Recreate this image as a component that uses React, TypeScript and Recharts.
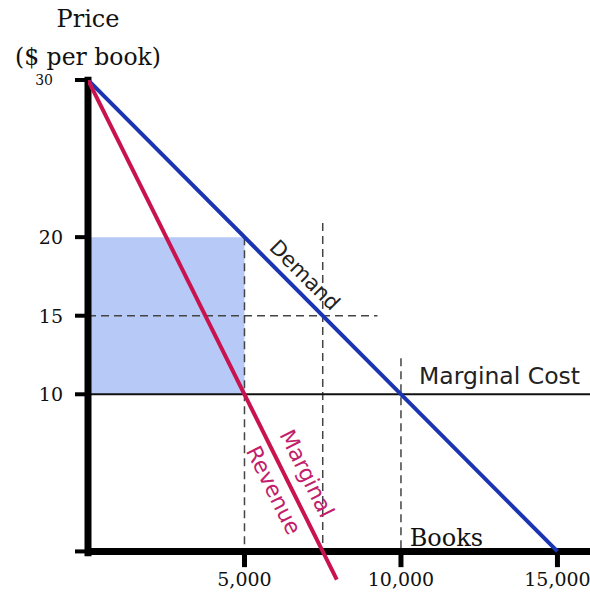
import React from "react";
import {
  ComposedChart,
  Line,
  XAxis,
  YAxis,
  ReferenceLine,
  ReferenceArea,
  ReferenceDot,
} from "recharts";

// quantities in books, prices in $ per book
const demand = [
  { books: 0, price: 30 },
  { books: 15000, price: 0 },
];
const marginalRevenue = [
  { books: 0, price: 30 },
  { books: 7950, price: -1.8 },
];
const marginalCost = 10;
const priceTicks = [0, 10, 15, 20, 30];
const bookTicks = [5000, 10000, 15000];
const bookTickLabels = ["5,000", "10,000", "15,000"];

const serif = "DejaVu Serif";
const sans = "DejaVu Sans";
const blue = "#1b34b2";
const crimson = "#c9134f";

const PriceTick = ({ x, y, payload }: any) => {
  const top = payload.value === 30;
  return (
    <text
      x={x}
      y={y}
      dx={top ? -10 : 0}
      dy={top ? 5 : 7}
      textAnchor="end"
      fontFamily={serif}
      fontSize={top ? 14 : 19}
      fill="#111"
    >
      {payload.value === 0 ? "" : payload.value}
    </text>
  );
};

export default function App() {
  return (
    <div
      style={{
        position: "absolute",
        left: 0,
        top: 0,
        width: 590,
        height: 597,
        background: "#fff",
      }}
    >
      <ComposedChart
        width={590}
        height={597}
        margin={{ top: 80, right: 0, left: 0, bottom: 11 }}
      >
        <XAxis
          dataKey="books"
          type="number"
          domain={[0, 16040]}
          allowDataOverflow
          hide
        />
        <YAxis
          type="number"
          domain={[-2.2, 30]}
          allowDataOverflow
          ticks={priceTicks}
          interval={0}
          width={88}
          axisLine={false}
          tickSize={13}
          tickMargin={12}
          tickLine={{ stroke: "#000", strokeWidth: 4 }}
          tick={<PriceTick />}
        />

        {/* monopoly profit box */}
        <ReferenceArea
          x1={0}
          x2={5000}
          y1={10}
          y2={20}
          fill="#b6c9f7"
          fillOpacity={1}
          stroke="none"
        />

        {/* guide lines */}
        <ReferenceLine
          segment={[{ x: 0, y: 15 }, { x: 9250, y: 15 }]}
          stroke="#444"
          strokeWidth={1.5}
          strokeDasharray="8 5"
        />
        <ReferenceLine
          segment={[{ x: 5000, y: 20 }, { x: 5000, y: 0 }]}
          stroke="#444"
          strokeWidth={1.5}
          strokeDasharray="8 5"
        />
        <ReferenceLine
          segment={[{ x: 7500, y: 20.9 }, { x: 7500, y: 0 }]}
          stroke="#444"
          strokeWidth={1.5}
          strokeDasharray="8 5"
        />
        <ReferenceLine
          segment={[{ x: 10000, y: 12.3 }, { x: 10000, y: 0 }]}
          stroke="#444"
          strokeWidth={1.5}
          strokeDasharray="8 5"
        />

        <ReferenceLine
          y={marginalCost}
          stroke="#111"
          strokeWidth={2}
          label={{
            value: "Marginal Cost",
            position: "insideBottomRight",
            offset: 10,
            fontFamily: sans,
            fontSize: 23.5,
            fill: "#222",
          }}
        />

        {/* axes */}
        <ReferenceLine y={0} stroke="#000" strokeWidth={7} />
        <ReferenceLine
          segment={[{ x: 0, y: -0.3 }, { x: 0, y: 30.2 }]}
          stroke="#000"
          strokeWidth={7}
          ifOverflow="visible"
        />
        {bookTicks.map((b, i) => (
          <ReferenceLine
            key={b}
            segment={[{ x: b, y: 0 }, { x: b, y: -1 }]}
            stroke="#000"
            strokeWidth={5}
            label={{
              value: bookTickLabels[i],
              position: "bottom",
              offset: 5,
              fontFamily: serif,
              fontSize: 19,
              fill: "#111",
            }}
          />
        ))}

        <Line
          data={demand}
          dataKey="price"
          stroke={blue}
          strokeWidth={4}
          dot={false}
          isAnimationActive={false}
        />
        <Line
          data={marginalRevenue}
          dataKey="price"
          stroke={crimson}
          strokeWidth={4}
          dot={false}
          isAnimationActive={false}
        />

        {/* text annotations */}
        <ReferenceDot
          x={6930}
          y={17.6}
          r={0}
          stroke="none"
          label={{ value: "Demand", position: "center", angle: 45, fontFamily: sans, fontSize: 21, fill: "#222" }}
        />
        <ReferenceDot
          x={7000}
          y={4.97}
          r={0}
          stroke="none"
          label={{ value: "Marginal", position: "center", angle: 63.4, fontFamily: sans, fontSize: 22, fill: "#c2206a" }}
        />
        <ReferenceDot
          x={5940}
          y={3.9}
          r={0}
          stroke="none"
          label={{ value: "Revenue", position: "center", angle: 63.4, fontFamily: sans, fontSize: 22, fill: "#c2206a" }}
        />
        <ReferenceDot
          x={11450}
          y={0.9}
          r={0}
          stroke="none"
          label={{ value: "Books", position: "center", fontFamily: serif, fontSize: 24, fill: "#111" }}
        />
        <ReferenceDot
          x={0}
          y={33.9}
          r={0}
          stroke="none"
          ifOverflow="visible"
          label={{ value: "Price", position: "center", fontFamily: serif, fontSize: 24, fill: "#111" }}
        />
        <ReferenceDot
          x={0}
          y={31.5}
          r={0}
          stroke="none"
          ifOverflow="visible"
          label={{ value: "($ per book)", position: "center", fontFamily: serif, fontSize: 23.5, fill: "#111" }}
        />
      </ComposedChart>
    </div>
  );
}
